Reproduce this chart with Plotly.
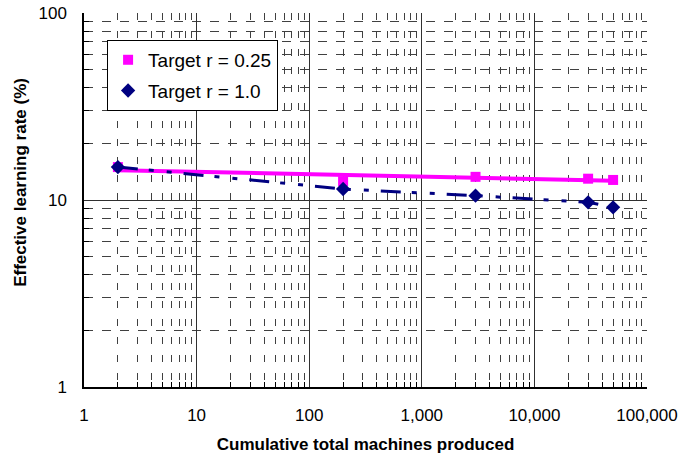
import numpy as np
import plotly.graph_objects as go

# ---- data ----
machines = [2, 200, 3000, 30000, 50000]
rate_r025 = [15.0, 12.6, 13.3, 13.0, 12.8]
rate_r100 = [15.0, 11.45, 10.55, 9.72, 9.14]

x_tickvals = [1, 10, 100, 1000, 10000, 100000]
x_ticktext = ["1", "10", "100", "1,000", "10,000", "100,000"]
y_tickvals = [1, 10, 100]
y_ticktext = ["1", "10", "100"]

x_minor = [m * 10 ** d for d in range(5) for m in range(2, 10)]
y_minor = [m * 10 ** d for d in range(2) for m in range(2, 10)]

PINK = "#FF00FF"
NAVY = "#000080"
FONT = "Liberation Sans, Arial, sans-serif"

# power trendline for the r = 0.25 series (least squares in log-log space)
lx = np.log10(machines)
slope, icpt = np.polyfit(lx, np.log10(rate_r025), 1)
trend_x = [machines[0], machines[-1]]
trend_y = [10 ** (icpt + slope * np.log10(v)) for v in trend_x]

fig = go.Figure()

fig.add_trace(go.Scatter(
    x=trend_x, y=trend_y, mode="lines",
    line=dict(color=PINK, width=4), showlegend=False, hoverinfo="skip"))

fig.add_trace(go.Scatter(
    x=machines, y=rate_r100, mode="lines",
    line=dict(color=NAVY, width=3, dash="20px,11px,5px,13px,5px,12px"),
    showlegend=False, hoverinfo="skip"))

fig.add_trace(go.Scatter(
    x=machines, y=rate_r025, mode="markers", name="Target r = 0.25",
    marker=dict(symbol="square", size=10, color=PINK, line=dict(width=0)),
    legendgroup="a"))

fig.add_trace(go.Scatter(
    x=machines, y=rate_r100, mode="markers", name="Target r = 1.0",
    marker=dict(symbol="diamond", size=11, color=NAVY, line=dict(width=0)),
    legendgroup="b"))

fig.update_layout(
    width=686, height=459,
    margin=dict(l=84, r=39, t=13, b=72),
    paper_bgcolor="white", plot_bgcolor="white",
    font=dict(family=FONT, size=17, color="black"),
    legend=dict(
        x=0.041, y=0.928, xanchor="left", yanchor="top",
        bgcolor="white", bordercolor="black", borderwidth=1,
        font=dict(family=FONT, size=19, color="black"),
        traceorder="grouped", tracegroupgap=3, itemwidth=30,
    ),
    annotations=[dict(
        text="<b>Effective learning rate (%)</b>",
        xref="paper", yref="paper", x=-0.114, y=0.548,
        xanchor="center", yanchor="middle", textangle=-90, showarrow=False,
        font=dict(family=FONT, size=17, color="black"),
    )],
)

fig.update_xaxes(
    type="log", range=[0, 5], automargin=False,
    tickmode="array", tickvals=x_tickvals, ticktext=x_ticktext,
    showgrid=True, gridcolor="#303030", gridwidth=1,
    showline=True, linecolor="black", linewidth=1.5,
    ticks="", ticklabelstandoff=12,
    tickfont=dict(family=FONT, size=17, color="black"),
    minor=dict(tickmode="array", tickvals=x_minor, showgrid=True,
               gridcolor="#404040", gridwidth=1, griddash="7px,11px",
               ticks="inside", ticklen=5, tickcolor="black"),
    title=dict(text="<b>Cumulative total machines produced</b>",
               font=dict(family=FONT, size=17, color="black"), standoff=14),
    zeroline=False,
)

fig.update_yaxes(
    type="log", range=[0, 2], automargin=False,
    tickmode="array", tickvals=y_tickvals, ticktext=y_ticktext,
    showgrid=True, gridcolor="#303030", gridwidth=1,
    showline=True, linecolor="black", linewidth=1.5,
    ticks="", ticklabelstandoff=12,
    tickfont=dict(family=FONT, size=17, color="black"),
    minor=dict(tickmode="array", tickvals=y_minor, showgrid=True,
               gridcolor="#404040", gridwidth=1, griddash="9px,9px",
               ticks="inside", ticklen=5, tickcolor="black"),
    zeroline=False,
)

fig.write_html(
    "out.html",
    config={"displayModeBar": False},
    post_script="document.body.style.margin='0';document.body.style.padding='0';",
)
